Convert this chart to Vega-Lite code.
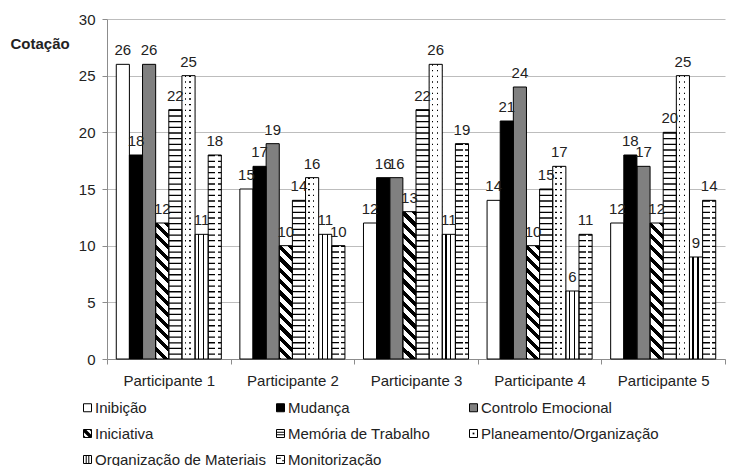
{
  "$schema": "https://vega.github.io/schema/vega-lite/v6.json",
  "width": 618,
  "height": 340,
  "autosize": {"type": "none"},
  "padding": {"left": 107, "top": 19, "right": 18, "bottom": 107},
  "background": "#ffffff",
  "data": {
    "values": [
      {"participante": "Participante 1", "indicador": "Inibição", "cotacao": 26},
      {"participante": "Participante 1", "indicador": "Mudança", "cotacao": 18},
      {"participante": "Participante 1", "indicador": "Controlo Emocional", "cotacao": 26},
      {"participante": "Participante 1", "indicador": "Iniciativa", "cotacao": 12},
      {"participante": "Participante 1", "indicador": "Memória de Trabalho", "cotacao": 22},
      {"participante": "Participante 1", "indicador": "Planeamento/Organização", "cotacao": 25},
      {"participante": "Participante 1", "indicador": "Organização de Materiais", "cotacao": 11},
      {"participante": "Participante 1", "indicador": "Monitorização", "cotacao": 18},
      {"participante": "Participante 2", "indicador": "Inibição", "cotacao": 15},
      {"participante": "Participante 2", "indicador": "Mudança", "cotacao": 17},
      {"participante": "Participante 2", "indicador": "Controlo Emocional", "cotacao": 19},
      {"participante": "Participante 2", "indicador": "Iniciativa", "cotacao": 10},
      {"participante": "Participante 2", "indicador": "Memória de Trabalho", "cotacao": 14},
      {"participante": "Participante 2", "indicador": "Planeamento/Organização", "cotacao": 16},
      {"participante": "Participante 2", "indicador": "Organização de Materiais", "cotacao": 11},
      {"participante": "Participante 2", "indicador": "Monitorização", "cotacao": 10},
      {"participante": "Participante 3", "indicador": "Inibição", "cotacao": 12},
      {"participante": "Participante 3", "indicador": "Mudança", "cotacao": 16},
      {"participante": "Participante 3", "indicador": "Controlo Emocional", "cotacao": 16},
      {"participante": "Participante 3", "indicador": "Iniciativa", "cotacao": 13},
      {"participante": "Participante 3", "indicador": "Memória de Trabalho", "cotacao": 22},
      {"participante": "Participante 3", "indicador": "Planeamento/Organização", "cotacao": 26},
      {"participante": "Participante 3", "indicador": "Organização de Materiais", "cotacao": 11},
      {"participante": "Participante 3", "indicador": "Monitorização", "cotacao": 19},
      {"participante": "Participante 4", "indicador": "Inibição", "cotacao": 14},
      {"participante": "Participante 4", "indicador": "Mudança", "cotacao": 21},
      {"participante": "Participante 4", "indicador": "Controlo Emocional", "cotacao": 24},
      {"participante": "Participante 4", "indicador": "Iniciativa", "cotacao": 10},
      {"participante": "Participante 4", "indicador": "Memória de Trabalho", "cotacao": 15},
      {"participante": "Participante 4", "indicador": "Planeamento/Organização", "cotacao": 17},
      {"participante": "Participante 4", "indicador": "Organização de Materiais", "cotacao": 6},
      {"participante": "Participante 4", "indicador": "Monitorização", "cotacao": 11},
      {"participante": "Participante 5", "indicador": "Inibição", "cotacao": 12},
      {"participante": "Participante 5", "indicador": "Mudança", "cotacao": 18},
      {"participante": "Participante 5", "indicador": "Controlo Emocional", "cotacao": 17},
      {"participante": "Participante 5", "indicador": "Iniciativa", "cotacao": 12},
      {"participante": "Participante 5", "indicador": "Memória de Trabalho", "cotacao": 20},
      {"participante": "Participante 5", "indicador": "Planeamento/Organização", "cotacao": 25},
      {"participante": "Participante 5", "indicador": "Organização de Materiais", "cotacao": 9},
      {"participante": "Participante 5", "indicador": "Monitorização", "cotacao": 14}
    ]
  },
  "encoding": {
    "x": {
      "field": "participante", "type": "nominal", "title": null,
      "scale": {"paddingInner": 0, "paddingOuter": 0},
      "axis": {"labelAngle": 0, "tickBand": "extent", "tickSize": 5, "labelPadding": 9, "grid": false}
    },
    "xOffset": {
      "field": "indicador", "type": "nominal",
      "scale": {
        "domain": ["Inibição", "Mudança", "Controlo Emocional", "Iniciativa", "Memória de Trabalho", "Planeamento/Organização", "Organização de Materiais", "Monitorização"],
        "paddingInner": 0, "paddingOuter": 0.706
      }
    },
    "y": {
      "field": "cotacao", "type": "quantitative",
      "scale": {"domain": [0, 30], "nice": false},
      "axis": {
        "values": [0, 5, 10, 15, 20, 25, 30], "grid": true, "tickSize": 5, "labelPadding": 7,
        "title": "Cotação", "titleAngle": 0, "titleFontSize": 15, "titleFontWeight": "bold", "titleColor": "#222222",
        "titleAlign": "left", "titleBaseline": "middle", "titleX": -97, "titleY": 24
      }
    }
  },
  "layer": [
    {
      "mark": {"type": "bar", "fill": "#ffffff", "yOffset": -20},
      "encoding": {"y2": {"field": "cotacao"}}
    },
    {
      "mark": {"type": "bar"},
      "encoding": {
        "fill": {
          "field": "indicador", "type": "nominal",
          "scale": {
            "domain": ["Inibição", "Mudança", "Controlo Emocional", "Iniciativa", "Memória de Trabalho", "Planeamento/Organização", "Organização de Materiais", "Monitorização"],
            "range": ["#ffffff", "#000000", "#808080", "#ffffff", "#ffffff", "#ffffff", "#ffffff", "#ffffff"]
          },
          "condition": [
            {"test": "datum.indicador === 'Iniciativa' && datum.cotacao === 10", "value": {"gradient": "linear", "x1": 1, "y1": 0, "x2": 0.8724, "y2": 1.101, "stops": [
              {"offset": 0, "color": "#000"}, {"offset": 0.0403, "color": "#000"}, {"offset": 0.0403, "color": "#fff"}, {"offset": 0.0896, "color": "#fff"},
              {"offset": 0.0896, "color": "#000"}, {"offset": 0.13, "color": "#000"}, {"offset": 0.13, "color": "#fff"}, {"offset": 0.1792, "color": "#fff"},
              {"offset": 0.1792, "color": "#000"}, {"offset": 0.2196, "color": "#000"}, {"offset": 0.2196, "color": "#fff"}, {"offset": 0.2688, "color": "#fff"},
              {"offset": 0.2688, "color": "#000"}, {"offset": 0.3092, "color": "#000"}, {"offset": 0.3092, "color": "#fff"}, {"offset": 0.3584, "color": "#fff"},
              {"offset": 0.3584, "color": "#000"}, {"offset": 0.3988, "color": "#000"}, {"offset": 0.3988, "color": "#fff"}, {"offset": 0.4481, "color": "#fff"},
              {"offset": 0.4481, "color": "#000"}, {"offset": 0.4884, "color": "#000"}, {"offset": 0.4884, "color": "#fff"}, {"offset": 0.5377, "color": "#fff"},
              {"offset": 0.5377, "color": "#000"}, {"offset": 0.578, "color": "#000"}, {"offset": 0.578, "color": "#fff"}, {"offset": 0.6273, "color": "#fff"},
              {"offset": 0.6273, "color": "#000"}, {"offset": 0.6676, "color": "#000"}, {"offset": 0.6676, "color": "#fff"}, {"offset": 0.7169, "color": "#fff"},
              {"offset": 0.7169, "color": "#000"}, {"offset": 0.7572, "color": "#000"}, {"offset": 0.7572, "color": "#fff"}, {"offset": 0.8065, "color": "#fff"},
              {"offset": 0.8065, "color": "#000"}, {"offset": 0.8468, "color": "#000"}, {"offset": 0.8468, "color": "#fff"}, {"offset": 0.8961, "color": "#fff"},
              {"offset": 0.8961, "color": "#000"}, {"offset": 0.9364, "color": "#000"}, {"offset": 0.9364, "color": "#fff"}, {"offset": 0.9857, "color": "#fff"},
              {"offset": 0.9857, "color": "#000"}, {"offset": 1, "color": "#000"}
            ]}},
            {"test": "datum.indicador === 'Iniciativa' && datum.cotacao === 12", "value": {"gradient": "linear", "x1": 1, "y1": 0, "x2": 0.8951, "y2": 1.0864, "stops": [
              {"offset": 0, "color": "#000"}, {"offset": 0.0342, "color": "#000"}, {"offset": 0.0342, "color": "#fff"}, {"offset": 0.076, "color": "#fff"},
              {"offset": 0.076, "color": "#000"}, {"offset": 0.1102, "color": "#000"}, {"offset": 0.1102, "color": "#fff"}, {"offset": 0.152, "color": "#fff"},
              {"offset": 0.152, "color": "#000"}, {"offset": 0.1862, "color": "#000"}, {"offset": 0.1862, "color": "#fff"}, {"offset": 0.228, "color": "#fff"},
              {"offset": 0.228, "color": "#000"}, {"offset": 0.2622, "color": "#000"}, {"offset": 0.2622, "color": "#fff"}, {"offset": 0.304, "color": "#fff"},
              {"offset": 0.304, "color": "#000"}, {"offset": 0.3382, "color": "#000"}, {"offset": 0.3382, "color": "#fff"}, {"offset": 0.38, "color": "#fff"},
              {"offset": 0.38, "color": "#000"}, {"offset": 0.4142, "color": "#000"}, {"offset": 0.4142, "color": "#fff"}, {"offset": 0.456, "color": "#fff"},
              {"offset": 0.456, "color": "#000"}, {"offset": 0.4902, "color": "#000"}, {"offset": 0.4902, "color": "#fff"}, {"offset": 0.532, "color": "#fff"},
              {"offset": 0.532, "color": "#000"}, {"offset": 0.5662, "color": "#000"}, {"offset": 0.5662, "color": "#fff"}, {"offset": 0.608, "color": "#fff"},
              {"offset": 0.608, "color": "#000"}, {"offset": 0.6421, "color": "#000"}, {"offset": 0.6421, "color": "#fff"}, {"offset": 0.6839, "color": "#fff"},
              {"offset": 0.6839, "color": "#000"}, {"offset": 0.7181, "color": "#000"}, {"offset": 0.7181, "color": "#fff"}, {"offset": 0.7599, "color": "#fff"},
              {"offset": 0.7599, "color": "#000"}, {"offset": 0.7941, "color": "#000"}, {"offset": 0.7941, "color": "#fff"}, {"offset": 0.8359, "color": "#fff"},
              {"offset": 0.8359, "color": "#000"}, {"offset": 0.8701, "color": "#000"}, {"offset": 0.8701, "color": "#fff"}, {"offset": 0.9119, "color": "#fff"},
              {"offset": 0.9119, "color": "#000"}, {"offset": 0.9461, "color": "#000"}, {"offset": 0.9461, "color": "#fff"}, {"offset": 0.9879, "color": "#fff"},
              {"offset": 0.9879, "color": "#000"}, {"offset": 1, "color": "#000"}
            ]}},
            {"test": "datum.indicador === 'Iniciativa' && datum.cotacao === 13", "value": {"gradient": "linear", "x1": 1, "y1": 0, "x2": 0.9037, "y2": 1.0805, "stops": [
              {"offset": 0, "color": "#000"}, {"offset": 0.0318, "color": "#000"}, {"offset": 0.0318, "color": "#fff"}, {"offset": 0.0706, "color": "#fff"},
              {"offset": 0.0706, "color": "#000"}, {"offset": 0.1024, "color": "#000"}, {"offset": 0.1024, "color": "#fff"}, {"offset": 0.1413, "color": "#fff"},
              {"offset": 0.1413, "color": "#000"}, {"offset": 0.173, "color": "#000"}, {"offset": 0.173, "color": "#fff"}, {"offset": 0.2119, "color": "#fff"},
              {"offset": 0.2119, "color": "#000"}, {"offset": 0.2437, "color": "#000"}, {"offset": 0.2437, "color": "#fff"}, {"offset": 0.2825, "color": "#fff"},
              {"offset": 0.2825, "color": "#000"}, {"offset": 0.3143, "color": "#000"}, {"offset": 0.3143, "color": "#fff"}, {"offset": 0.3531, "color": "#fff"},
              {"offset": 0.3531, "color": "#000"}, {"offset": 0.3849, "color": "#000"}, {"offset": 0.3849, "color": "#fff"}, {"offset": 0.4238, "color": "#fff"},
              {"offset": 0.4238, "color": "#000"}, {"offset": 0.4555, "color": "#000"}, {"offset": 0.4555, "color": "#fff"}, {"offset": 0.4944, "color": "#fff"},
              {"offset": 0.4944, "color": "#000"}, {"offset": 0.5262, "color": "#000"}, {"offset": 0.5262, "color": "#fff"}, {"offset": 0.565, "color": "#fff"},
              {"offset": 0.565, "color": "#000"}, {"offset": 0.5968, "color": "#000"}, {"offset": 0.5968, "color": "#fff"}, {"offset": 0.6356, "color": "#fff"},
              {"offset": 0.6356, "color": "#000"}, {"offset": 0.6674, "color": "#000"}, {"offset": 0.6674, "color": "#fff"}, {"offset": 0.7063, "color": "#fff"},
              {"offset": 0.7063, "color": "#000"}, {"offset": 0.738, "color": "#000"}, {"offset": 0.738, "color": "#fff"}, {"offset": 0.7769, "color": "#fff"},
              {"offset": 0.7769, "color": "#000"}, {"offset": 0.8087, "color": "#000"}, {"offset": 0.8087, "color": "#fff"}, {"offset": 0.8475, "color": "#fff"},
              {"offset": 0.8475, "color": "#000"}, {"offset": 0.8793, "color": "#000"}, {"offset": 0.8793, "color": "#fff"}, {"offset": 0.9182, "color": "#fff"},
              {"offset": 0.9182, "color": "#000"}, {"offset": 0.9499, "color": "#000"}, {"offset": 0.9499, "color": "#fff"}, {"offset": 0.9888, "color": "#fff"},
              {"offset": 0.9888, "color": "#000"}, {"offset": 1, "color": "#000"}
            ]}},
            {"test": "datum.indicador === 'Organização de Materiais'", "value": {"gradient": "linear", "x1": 0, "y1": 0, "x2": 1, "y2": 0, "stops": [
              {"offset": 0, "color": "#fff"}, {"offset": 0.23, "color": "#fff"}, {"offset": 0.23, "color": "#000"}, {"offset": 0.33, "color": "#000"},
              {"offset": 0.33, "color": "#fff"}, {"offset": 0.6, "color": "#fff"}, {"offset": 0.6, "color": "#000"}, {"offset": 0.7, "color": "#000"},
              {"offset": 0.7, "color": "#fff"}, {"offset": 1, "color": "#fff"}
            ]}}
          ],
          "legend": {
            "orient": "none", "legendX": -27, "legendY": 381, "columns": 3, "direction": "horizontal", "gridAlign": "all",
            "columnPadding": -6, "rowPadding": 10, "title": null, "zindex": 1,
            "symbolType": "square", "symbolSize": 64, "symbolStrokeColor": "#000000", "symbolStrokeWidth": 1,
            "labelFontSize": 15, "labelColor": "#222222", "labelLimit": 300, "labelOffset": 0
          }
        }
      }
    },
    {
      "transform": [{"filter": {"field": "indicador", "oneOf": ["Memória de Trabalho", "Planeamento/Organização", "Monitorização"]}}],
      "mark": {"type": "rule", "color": "#000000", "strokeWidth": 13.13, "strokeDash": [1.3, 4.37], "strokeCap": "butt"},
      "encoding": {"y2": {"datum": 0}}
    },
    {
      "transform": [{"filter": {"field": "indicador", "oneOf": ["Planeamento/Organização", "Monitorização"]}}],
      "mark": {"type": "bar"},
      "encoding": {
        "fill": {
          "condition": {"test": "datum.indicador === 'Planeamento/Organização'", "value": {"gradient": "linear", "x1": 0, "y1": 0, "x2": 1, "y2": 0, "stops": [
            {"offset": 0, "color": "#fff"}, {"offset": 0.2, "color": "#fff"}, {"offset": 0.2, "color": "rgba(255,255,255,0)"}, {"offset": 0.31, "color": "rgba(255,255,255,0)"},
            {"offset": 0.31, "color": "#fff"}, {"offset": 0.57, "color": "#fff"}, {"offset": 0.57, "color": "rgba(255,255,255,0)"}, {"offset": 0.68, "color": "rgba(255,255,255,0)"},
            {"offset": 0.68, "color": "#fff"}, {"offset": 1, "color": "#fff"}]}},
          "value": {"gradient": "linear", "x1": 0, "y1": 0, "x2": 1, "y2": 0, "stops": [
            {"offset": 0, "color": "rgba(255,255,255,0)"}, {"offset": 0.55, "color": "rgba(255,255,255,0)"}, {"offset": 0.55, "color": "#fff"}, {"offset": 0.72, "color": "#fff"},
            {"offset": 0.72, "color": "rgba(255,255,255,0)"}, {"offset": 1, "color": "rgba(255,255,255,0)"}]}
        }
      }
    },
    {
      "mark": {"type": "bar", "fill": "transparent", "stroke": "#000000", "strokeWidth": 1}
    },
    {
      "mark": {"type": "point", "filled": true, "color": "#000000", "opacity": 0},
      "encoding": {
        "shape": {
          "field": "indicador", "type": "nominal",
          "scale": {
            "domain": ["Inibição", "Mudança", "Controlo Emocional", "Iniciativa", "Memória de Trabalho", "Planeamento/Organização", "Organização de Materiais", "Monitorização", " "],
            "range": [
              "M0,0L0,0Z",
              "M0,0L0,0Z",
              "M0,0L0,0Z",
              "M-1,-1L-0.4,-1L1,0.4L1,1L0.4,1L-1,-0.4Z M0.4,-1L1,-1L1,-0.4Z M-1,0.4L-1,1L-0.4,1Z",
              "M-1,-0.45H1V-0.2H-1Z M-1,0.2H1V0.45H-1Z",
              "M-0.22,-0.22H0.22V0.22H-0.22Z",
              "M-0.45,-1H-0.2V1H-0.45Z M0.2,-1H0.45V1H0.2Z",
              "M-1,-0.45H0.1V-0.2H-1Z M0.4,0.2H1V0.45H0.4Z",
              "M0,0L0,0Z"
            ]
          },
          "legend": {
            "orient": "none", "legendX": -27, "legendY": 381, "columns": 3, "direction": "horizontal", "gridAlign": "all",
            "columnPadding": -6, "rowPadding": 10, "title": null, "zindex": 2,
            "symbolSize": 64, "symbolOpacity": 1, "symbolFillColor": "#000000", "symbolStrokeColor": "rgba(0,0,0,0)", "symbolStrokeWidth": 1,
            "labelFontSize": 15, "labelOpacity": 0, "labelLimit": 300, "labelOffset": 0
          }
        }
      }
    },
    {
      "mark": {"type": "text", "baseline": "alphabetic", "dy": -9, "fontSize": 15, "fill": "#222222"},
      "encoding": {"text": {"field": "cotacao", "type": "quantitative"}}
    }
  ],
  "config": {
    "font": "Liberation Sans",
    "view": {"stroke": null},
    "axis": {
      "labelFont": "Liberation Sans", "labelFontSize": 15, "labelColor": "#222222",
      "domainColor": "#8c8c8c", "tickColor": "#8c8c8c", "gridColor": "#bdbdbd",
      "titleFont": "Liberation Sans"
    },
    "legend": {"labelFont": "Liberation Sans"}
  }
}
